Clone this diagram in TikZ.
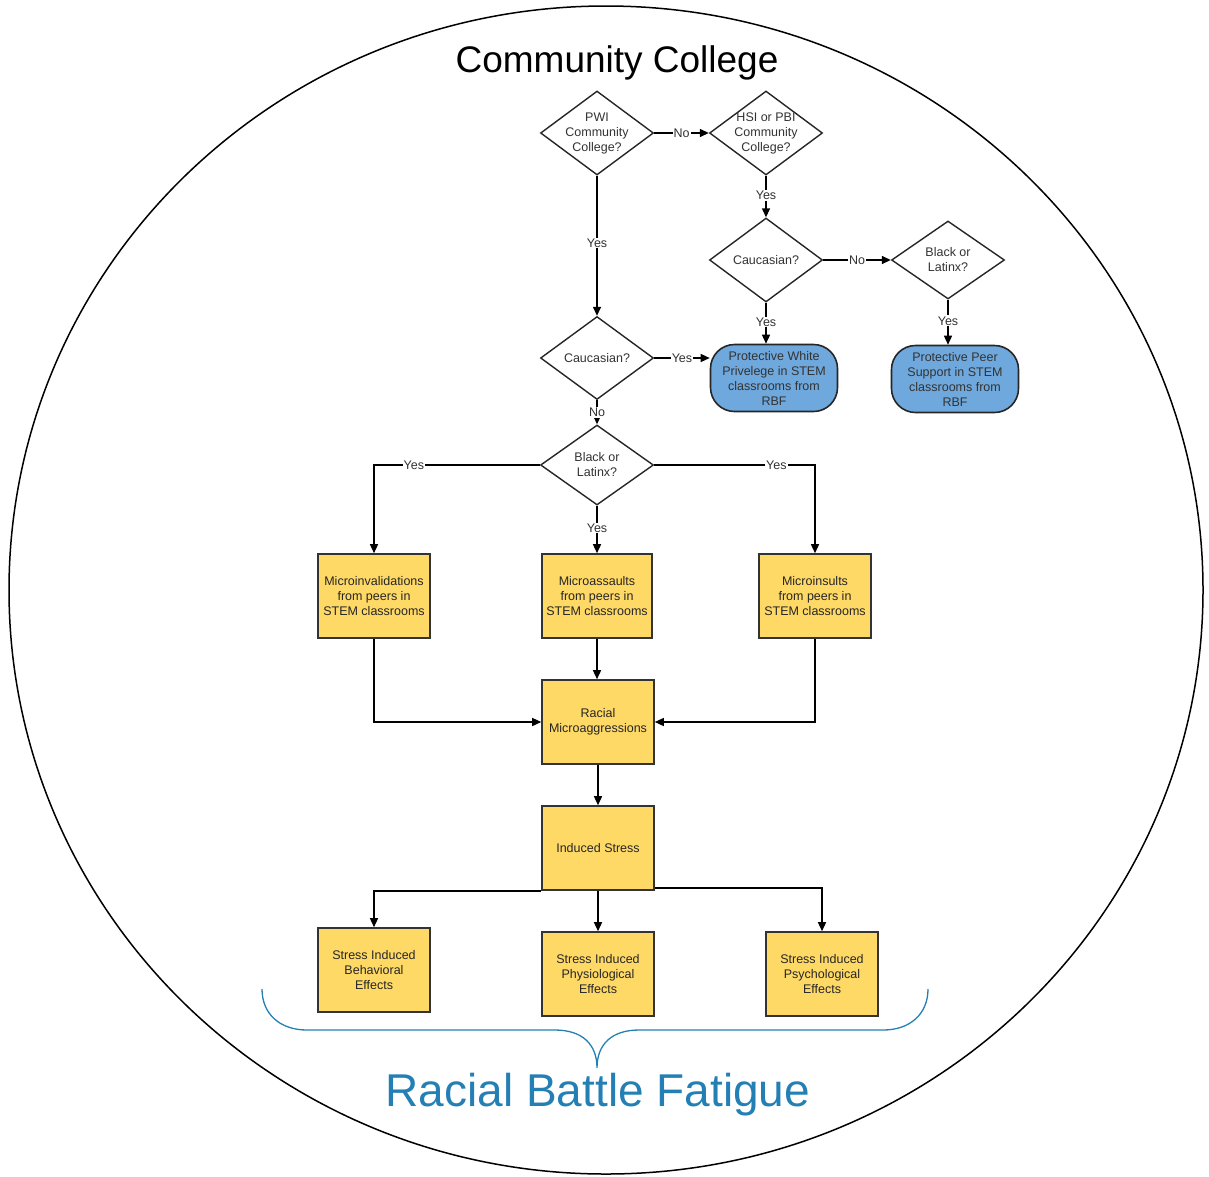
\documentclass[tikz,border=0pt]{standalone}
\usepackage{fontspec}
\setmainfont{Liberation Sans}
\usetikzlibrary{arrows.meta,shapes.geometric}
\definecolor{rbfblue}{RGB}{111,168,220}
\definecolor{rbfyellow}{RGB}{255,217,102}
\definecolor{rbfteal}{RGB}{36,128,180}
\newcommand{\rbffont}{\fontsize{12.5}{15}\selectfont}
\tikzset{
  rbfdec/.style={draw=black!85, fill=white, shape=diamond, line width=1.4pt,
                 minimum width=113pt, minimum height=84pt, inner sep=-12pt,
                 align=center, font=\rbffont, text=black!80},
  rbfbox/.style={draw=black!80, fill=rbfyellow, line width=1.6pt, align=center,
                 minimum width=112pt, minimum height=84pt, inner sep=2pt,
                 font=\rbffont, text=black!85},
  rbfend/.style={draw=black!85, fill=rbfblue, line width=1.6pt, rounded corners=24pt,
                 align=center, minimum width=127pt, minimum height=67pt, inner sep=1pt,
                 font=\rbffont, text=black!80},
  rbfar/.style={-{Triangle[length=9pt,width=8pt]}, line width=1.4pt},
  rbflab/.style={fill=white, inner sep=1pt, font=\rbffont, text=black!80},
}

\begin{document}
\begin{tikzpicture}[x=1pt, y=-1pt]
  \useasboundingbox (0,0) rectangle (1209,1176);
  \draw[line width=1.5pt] (606,590) ellipse [x radius=597pt, y radius=584pt];

  \node[font=\fontsize{37}{40}\selectfont] (title) at (617,63) {Community College};

  \node[rbfdec] (pwi) at (597,133) {PWI\\Community\\College?};
  \node[rbfdec] (hsi) at (766,133) {HSI or PBI\\Community\\College?};
  \node[rbfdec] (cauR) at (766,260) {Caucasian?};
  \node[rbfdec, minimum height=78pt] (blkR) at (948,260) {Black or\\Latinx?};
  \node[rbfdec, minimum height=83pt] (cauL) at (597,358) {Caucasian?};
  \node[rbfdec, minimum height=80pt] (blkL) at (597,465) {Black or\\Latinx?};

  \node[rbfend] (white) at (774,378) {Protective White\\Privelege in STEM\\classrooms from\\RBF};
  \node[rbfend] (peer) at (955,379) {Protective Peer\\Support in STEM\\classrooms from\\RBF};

  \node[rbfbox] (minv) at (374,596) {Microinvalidations\\from peers in\\STEM classrooms};
  \node[rbfbox, minimum width=110pt] (mass) at (597,596) {Microassaults\\from peers in\\STEM classrooms};
  \node[rbfbox] (mins) at (815,596) {Microinsults\\from peers in\\STEM classrooms};
  \node[rbfbox] (micro) at (598,722) {Racial\\Microaggressions};
  \node[rbfbox] (stress) at (598,848) {Induced Stress};
  \node[rbfbox] (behav) at (374,970) {Stress Induced\\Behavioral\\Effects};
  \node[rbfbox] (physio) at (598,974) {Stress Induced\\Physiological\\Effects};
  \node[rbfbox] (psych) at (822,974) {Stress Induced\\Psychological\\Effects};

  \node[font=\fontsize{46}{50}\selectfont, text=rbfteal] (rbf) at (598,1095) {Racial Battle Fatigue};

  \draw[rbfar] (pwi.east) -- node[rbflab] {No} (hsi.west);
  \draw[rbfar] (pwi.south) -- node[rbflab, pos=0.48] {Yes} (cauL.north);
  \draw[rbfar] (hsi.south) -- node[rbflab, pos=0.48] {Yes} (cauR.north);
  \draw[rbfar] (cauR.east) -- node[rbflab] {No} (blkR.west);
  \draw[rbfar] (cauR.south) -- node[rbflab, pos=0.47] {Yes} (cauR.south |- white.north);
  \draw[rbfar] (blkR.south) -- node[rbflab, pos=0.47] {Yes} (blkR.south |- peer.north);
  \draw[rbfar] (cauL.east) -- node[rbflab] {Yes} (cauL.east -| white.west);
  \draw[rbfar] (cauL.south) -- node[rbflab] {No} (blkL.north);
  \draw[rbfar] (blkL.west) -| node[rbflab, pos=0.38] {Yes} (minv.north);
  \draw[rbfar] (blkL.south) -- node[rbflab, pos=0.47] {Yes} (mass.north);
  \draw[rbfar] (blkL.east) -| node[rbflab, pos=0.38] {Yes} (mins.north);
  \draw[rbfar] (minv.south) |- (micro.west);
  \draw[rbfar] (mass.south) -- (mass.south |- micro.north);
  \draw[rbfar] (mins.south) |- (micro.east);
  \draw[rbfar] (micro.south) -- (stress.north);
  \draw[rbfar] (stress.south west) -| (behav.north);
  \draw[rbfar] (stress.south) -- (physio.north);
  \draw[rbfar] ([yshift=3pt]stress.south east) -| (psych.north);

  \draw[rbfteal, line width=1.3pt] (262,989) .. controls (262,1014) and (280,1030) .. (307,1030)
    -- (555,1030) .. controls (582,1030) and (597,1044) .. (597,1068)
    .. controls (597,1044) and (612,1030) .. (639,1030)
    -- (883,1030) .. controls (910,1030) and (928,1014) .. (928,989);
\end{tikzpicture}
\end{document}
